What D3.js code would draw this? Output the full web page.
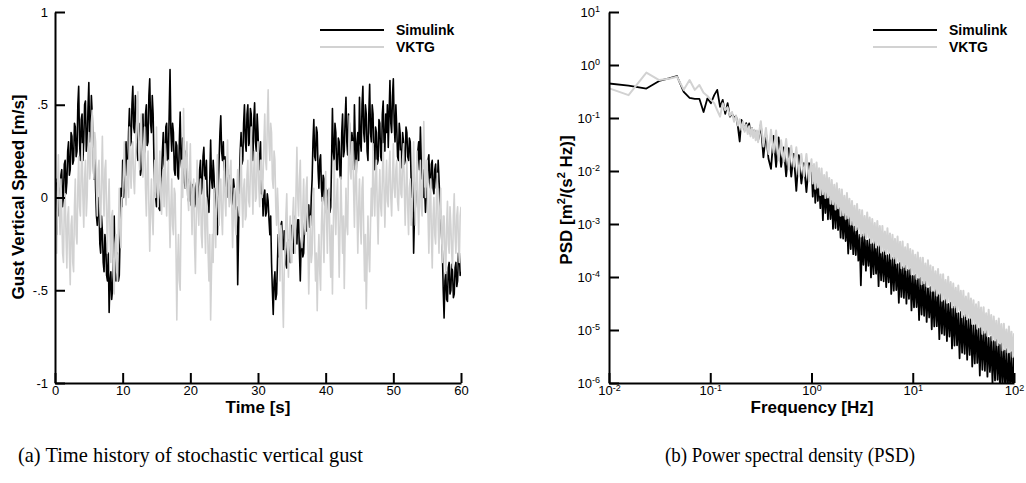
<!DOCTYPE html>
<html>
<head>
<meta charset="utf-8">
<script src="https://cdn.jsdelivr.net/npm/d3@7"></script>
<style>
    body { margin: 0; background: #fff; }
    svg text { font-family: "Liberation Sans", Arial, sans-serif; }
</style>
</head>
<body>
<svg id="chart" width="1026" height="483"></svg>
<script>
    // ---------- data : (a) gust time history, one sample every 0.125 s (one row per second) ----------
    const sampleStep = 0.125
    const simulinkGust = [
        -0.05, 0.1, -0.2, 0.08, 0.05, -0.1, -0.02, 0.12,
        0.15, -0.05, 0.0, 0.18, 0.2, 0.02, 0.08, 0.25,
        0.3, 0.12, 0.15, 0.35, 0.33, 0.18, 0.2, 0.4,
        0.38, 0.22, 0.25, 0.5, 0.6, 0.3, 0.2, 0.42,
        0.45, 0.2, 0.3, 0.5, 0.52, 0.25, 0.28, 0.48,
        0.62, 0.3, 0.35, 0.55, 0.45, 0.25, 0.1, 0.3,
        0.05, -0.1, -0.15, 0.0, -0.05, -0.25, -0.3, -0.1,
        -0.18, -0.35, -0.4, -0.2, -0.25, -0.42, -0.45, -0.3,
        -0.62, -0.45, -0.4, -0.55, -0.5, -0.35, -0.1, -0.4,
        -0.45, -0.32, -0.3, -0.45, -0.42, -0.2, 0.05, -0.05,
        0.2, 0.0, 0.05, 0.25, 0.3, 0.12, 0.15, 0.35,
        0.48, 0.28, 0.3, 0.5, 0.6, 0.38, 0.35, 0.55,
        0.45, 0.25, 0.2, 0.4, 0.32, 0.12, 0.15, 0.35,
        0.45, 0.22, 0.25, 0.45, 0.5, 0.28, 0.3, 0.55,
        0.64, 0.4, 0.35, 0.55, 0.45, 0.2, 0.05, 0.0,
        -0.05, 0.08, 0.05, -0.06, -0.07, 0.06, 0.12, 0.25,
        0.35, 0.18, 0.15, 0.38, 0.4, 0.2, 0.2, 0.45,
        0.69, 0.35, 0.25, 0.4, 0.35, 0.15, 0.12, 0.3,
        0.28, 0.12, 0.1, 0.3, 0.46, 0.2, 0.15, 0.32,
        0.3, 0.08, 0.05, 0.25, 0.22, 0.0, -0.02, 0.1,
        0.08, -0.04, -0.05, 0.07, 0.05, -0.05, -0.03, 0.06,
        0.1, -0.04, -0.02, 0.15, 0.2, 0.02, 0.05, 0.22,
        0.27, 0.12, 0.1, 0.2, 0.02, -0.06, -0.08, 0.1,
        0.31, 0.1, 0.05, 0.2, 0.12, -0.05, -0.09, 0.05,
        -0.2, 0.05, 0.2, 0.35, 0.44, 0.25, 0.2, 0.3,
        0.1, 0.22, 0.0, 0.12, 0.15, 0.0, 0.02, 0.12,
        0.08, -0.04, -0.02, 0.1, 0.05, -0.05, -0.15, -0.05,
        -0.47, -0.2, 0.1, 0.25, 0.35, 0.18, 0.2, 0.4,
        0.5, 0.3, 0.25, 0.45, 0.5, 0.28, 0.3, 0.48,
        0.45, 0.25, 0.2, 0.42, 0.51, 0.3, 0.25, 0.45,
        0.35, 0.18, 0.15, 0.3, 0.02, 0.08, -0.1, 0.0,
        0.04, -0.1, -0.08, 0.02, -0.02, -0.12, -0.2, -0.1,
        -0.35, -0.5, -0.63, -0.45, -0.4, -0.55, -0.52, -0.35,
        -0.2, -0.32, -0.3, -0.15, -0.13, -0.28, -0.28, -0.18,
        -0.25, -0.36, -0.38, -0.24, -0.23, -0.34, -0.35, -0.22,
        -0.15, -0.28, -0.3, -0.14, -0.1, -0.22, -0.25, -0.12,
        -0.12, -0.3, -0.45, -0.25, -0.2, -0.32, -0.3, -0.15,
        -0.08, -0.18, -0.18, -0.05, -0.04, -0.16, -0.15, 0.0,
        0.1, 0.3, 0.42, 0.22, 0.2, 0.38, 0.35, 0.15,
        0.05, 0.2, 0.23, 0.05, -0.02, 0.12, 0.1, -0.05,
        0.05, -0.08, -0.11, 0.04, 0.02, -0.08, -0.05, 0.2,
        0.48, 0.25, 0.2, 0.4, 0.35, 0.15, 0.15, 0.32,
        0.3, 0.12, 0.1, 0.35, 0.45, 0.22, 0.25, 0.42,
        0.54, 0.3, 0.23, 0.45, 0.4, 0.2, 0.15, 0.35,
        0.3, 0.15, 0.5, 0.3, 0.1, 0.3, 0.35, 0.2,
        0.54, 0.3, 0.25, 0.5, 0.6, 0.35, 0.3, 0.5,
        0.45, 0.25, 0.2, 0.45, 0.61, 0.35, 0.3, 0.5,
        0.45, 0.2, 0.15, 0.38, 0.35, 0.18, 0.2, 0.42,
        0.4, 0.22, 0.2, 0.45, 0.52, 0.3, 0.25, 0.45,
        0.35, 0.5, 0.27, 0.45, 0.63, 0.4, 0.35, 0.55,
        0.64, 0.4, 0.3, 0.5, 0.38, 0.22, 0.2, 0.4,
        0.35, 0.2, 0.16, 0.35, 0.3, 0.18, 0.2, 0.38,
        0.35, 0.22, 0.2, 0.32, 0.3, 0.1, 0.0, 0.1,
        -0.3, -0.1, -0.05, 0.05, 0.1, 0.25, 0.3, 0.15,
        0.38, 0.2, 0.1, 0.15, 0.0, 0.05, -0.08, 0.05,
        0.05, 0.2, 0.23, 0.08, 0.05, 0.18, 0.2, 0.05,
        0.02, 0.15, 0.18, 0.05, 0.05, 0.2, 0.1, -0.02,
        -0.1, -0.2, -0.3, -0.5, -0.65, -0.45, -0.4, -0.55,
        -0.56, -0.38, -0.35, -0.52, -0.5, -0.36, -0.4, -0.54,
        -0.52, -0.38, -0.35, -0.48, -0.45, -0.3, -0.3, -0.42,
        -0.4
    ]
    const vktgGust = [
        0.1, -0.15, -0.3, 0.05, 0.23, -0.05, -0.2, 0.1,
        -0.1, -0.3, -0.35, -0.05, 0.02, -0.2, -0.38, -0.1,
        -0.05, -0.3, -0.47, -0.15, -0.1, -0.35, -0.4, -0.05,
        0.1, -0.2, -0.25, 0.05, 0.22, -0.05, -0.1, 0.15,
        0.29, 0.0, -0.16, 0.1, 0.2, -0.1, 0.0, 0.25,
        0.35, 0.1, 0.15, 0.4, 0.47, 0.2, 0.1, 0.35,
        0.3, 0.05, -0.1, 0.15, 0.2, -0.05, -0.16, 0.1,
        0.33, 0.05, -0.1, 0.15, 0.2, -0.1, -0.3, -0.05,
        0.1, -0.2, -0.35, -0.1, -0.07, -0.4, -0.52, -0.25,
        -0.2, -0.4, -0.45, -0.15, 0.05, -0.2, -0.27, 0.0,
        0.0, 0.15, 0.3, 0.05, -0.04, 0.1, 0.2, 0.0,
        0.38, 0.15, 0.05, 0.25, 0.3, 0.1, 0.02, 0.2,
        0.3, 0.5, 0.57, 0.25, 0.15, 0.35, 0.45, 0.2,
        0.11, 0.3, 0.38, 0.05, -0.1, 0.15, 0.25, -0.05,
        -0.29, -0.05, 0.1, -0.1, -0.2, 0.05, 0.2, 0.0,
        0.38, 0.1, -0.05, 0.15, 0.25, 0.0, -0.09, 0.1,
        0.15, -0.05, 0.29, 0.05, -0.1, 0.1, 0.2, -0.05,
        -0.27, -0.05, 0.1, -0.15, -0.2, 0.05, 0.02, -0.25,
        -0.66, -0.35, -0.2, -0.45, -0.5, -0.1, 0.2, 0.0,
        0.48, 0.2, 0.05, 0.25, 0.3, 0.0, -0.07, 0.15,
        0.29, 0.0, -0.2, 0.05, 0.1, -0.25, -0.41, -0.1,
        0.2, -0.05, -0.15, 0.05, 0.1, -0.2, -0.27, 0.0,
        0.11, -0.15, -0.3, 0.0, -0.05, -0.3, -0.45, -0.2,
        -0.66, -0.4, -0.2, -0.35, 0.05, -0.1, -0.27, 0.05,
        0.23, -0.05, -0.15, 0.05, 0.1, -0.1, -0.2, 0.05,
        0.2, 0.0, -0.1, 0.15, 0.31, 0.05, -0.05, 0.15,
        0.2, -0.05, -0.27, -0.05, 0.05, -0.15, -0.2, 0.05,
        0.15, -0.05, -0.1, 0.1, 0.27, 0.0, -0.16, 0.05,
        0.1, -0.12, -0.1, 0.12, 0.2, -0.02, -0.05, 0.15,
        0.38, 0.1, -0.09, 0.15, 0.25, -0.02, 0.0, 0.2,
        0.3, 0.05, -0.05, 0.2, 0.2, 0.0, 0.11, 0.3,
        0.45, 0.2, 0.15, 0.4, 0.58, 0.3, 0.2, 0.4,
        0.35, 0.1, 0.05, 0.25, 0.2, -0.05, -0.15, 0.05,
        -0.07, -0.3, -0.45, -0.15, -0.2, -0.5, -0.7, -0.4,
        -0.3, -0.1, 0.02, -0.25, -0.43, -0.2, -0.1, -0.35,
        -0.35, -0.1, 0.0, -0.2, -0.3, 0.05, 0.27, 0.0,
        -0.1, 0.1, 0.2, -0.1, -0.27, -0.05, 0.1, -0.15,
        -0.2, 0.05, 0.11, -0.25, -0.52, -0.3, -0.1, -0.35,
        -0.3, -0.05, 0.05, -0.25, -0.45, -0.3, -0.61, -0.35,
        -0.2, -0.4, -0.5, -0.15, 0.0, -0.2, -0.35, -0.05,
        0.14, -0.1, -0.3, 0.0, 0.05, -0.25, -0.43, -0.15,
        -0.52, -0.2, 0.2, -0.05, -0.2, 0.0, 0.1, -0.15,
        -0.43, -0.15, 0.11, -0.1, -0.3, -0.1, -0.49, -0.2,
        0.05, -0.15, -0.2, 0.2, 0.44, 0.15, 0.1, 0.3,
        0.3, 0.05, -0.16, 0.1, 0.2, -0.05, -0.3, -0.05,
        0.1, -0.15, -0.25, 0.05, 0.11, -0.2, -0.45, -0.2,
        -0.6, -0.35, -0.1, -0.3, -0.4, -0.15, 0.05, -0.1,
        0.29, 0.05, -0.1, 0.1, 0.2, -0.05, -0.25, 0.0,
        0.15, -0.05, -0.1, 0.1, 0.29, 0.05, -0.16, 0.05,
        0.2, -0.02, -0.05, 0.15, 0.25, 0.0, -0.1, 0.1,
        0.29, 0.05, 0.0, 0.15, 0.2, -0.02, -0.07, 0.1,
        0.25, 0.02, 0.0, 0.2, 0.29, 0.05, -0.15, 0.05,
        0.2, -0.05, -0.2, 0.05, 0.1, -0.15, -0.1, 0.1,
        0.3, 0.05, -0.15, 0.1, 0.25, -0.05, -0.2, 0.05,
        0.2, -0.05, -0.1, 0.2, 0.41, 0.15, 0.0, 0.2,
        0.2, -0.1, -0.3, -0.05, 0.1, -0.2, -0.38, -0.1,
        0.0, -0.2, -0.25, 0.0, 0.13, -0.15, -0.3, -0.05,
        0.05, -0.2, -0.35, -0.1, -0.1, -0.3, -0.41, -0.15,
        -0.02, -0.25, -0.3, -0.05, -0.15, -0.3, -0.38, -0.1,
        0.02, -0.2, -0.3, -0.1, -0.05, -0.25, -0.35, -0.1,
        -0.05
    ]
    const timeTicks = [0, 10, 20, 30, 40, 50, 60]
    const gustTicks = [-1, -0.5, 0, 0.5, 1]
    const gustTickLabels = ["-1", "-.5", "0", ".5", "1"]

    // ---------- data : (b) power spectral density ----------
    const psdFreq = [
        0.0078, 0.0156, 0.0234, 0.0313, 0.0391, 0.0469, 0.0547, 0.0625, 0.0703, 0.0781,
        0.0859, 0.0938, 0.1016, 0.1094, 0.1172, 0.125, 0.1328, 0.1406, 0.1484, 0.1563,
        0.1641, 0.1719, 0.1797, 0.1875, 0.1953, 0.2031, 0.2109, 0.2188, 0.2266, 0.2344,
        0.2422, 0.25, 0.2578, 0.2656, 0.2734, 0.2813, 0.2891, 0.2969, 0.3047,
        0.316, 0.335, 0.355, 0.376, 0.398, 0.422, 0.447, 0.473, 0.501, 0.531,
        0.562, 0.596, 0.631, 0.668, 0.708, 0.750, 0.794, 0.841, 0.891, 0.944,
        1.000, 1.029, 1.059, 1.090, 1.122, 1.155, 1.189, 1.223, 1.259, 1.296,
        1.334, 1.372, 1.413, 1.454, 1.496, 1.540, 1.585, 1.631, 1.679, 1.728,
        1.778, 1.830, 1.884, 1.939, 1.995, 2.054, 2.113, 2.175, 2.239, 2.304,
        2.371, 2.441, 2.512, 2.585, 2.661, 2.738, 2.818, 2.901, 2.985, 3.073,
        3.162, 3.255, 3.350, 3.447, 3.548, 3.652, 3.758, 3.868, 3.981, 4.097,
        4.217, 4.340, 4.467, 4.597, 4.732, 4.870, 5.012, 5.158, 5.309, 5.464,
        5.623, 5.788, 5.957, 6.131, 6.310, 6.494, 6.683, 6.879, 7.079, 7.286,
        7.499, 7.718, 7.943, 8.175, 8.414, 8.660, 8.913, 9.173, 9.441, 9.716,
        10.00, 10.29, 10.59, 10.90, 11.22, 11.55, 11.89, 12.23, 12.59, 12.96,
        13.34, 13.72, 14.13, 14.54, 14.96, 15.40, 15.85, 16.31, 16.79, 17.28,
        17.78, 18.30, 18.84, 19.39, 19.95, 20.54, 21.13, 21.75, 22.39, 23.04,
        23.71, 24.41, 25.12, 25.85, 26.61, 27.38, 28.18, 29.01, 29.85, 30.73,
        31.62, 32.55, 33.50, 34.47, 35.48, 36.52, 37.58, 38.68, 39.81, 40.97,
        42.17, 43.40, 44.67, 45.97, 47.32, 48.70, 50.12, 51.58, 53.09, 54.64,
        56.23, 57.88, 59.57, 61.31, 63.10, 64.94, 66.83, 68.79, 70.79, 72.86,
        74.99, 77.18, 79.43, 81.75, 84.14, 86.60, 89.13, 91.73, 94.41, 97.16,
        100
    ]
    const psdSimulink = [
        0.47, 0.41, 0.36, 0.50, 0.56, 0.62, 0.31, 0.24, 0.23, 0.23,
        0.13, 0.235, 0.19, 0.27, 0.34, 0.163, 0.22, 0.12, 0.19, 0.106,
        0.12, 0.10, 0.11, 0.069, 0.036, 0.092, 0.075, 0.059, 0.08, 0.062,
        0.079, 0.05, 0.065, 0.051, 0.058, 0.045, 0.055, 0.038, 0.05,
        7.6e-2, 1.8e-2, 5.3e-2, 1.7e-2, 1.1e-2, 4.6e-2, 1.2e-2, 4.3e-2, 1.2e-2, 2.8e-2,
        7.9e-3, 2.7e-2, 7.8e-3, 2.1e-2, 4.2e-3, 2.0e-2, 5.8e-3, 1.4e-2, 4.0e-3, 1.4e-2,
        1.26e-2, 3.29e-3, 1.01e-2, 2.52e-3, 9.95e-3, 2.72e-3, 7.11e-3, 1.99e-3, 7.02e-3, 1.18e-3,
        5.75e-3, 1.61e-3, 4.72e-3, 1.23e-3, 4.55e-3, 1.24e-3, 3.73e-3, 8.11e-4, 2.86e-3, 8.38e-4,
        2.95e-3, 7.71e-4, 2.21e-3, 5.51e-4, 2.08e-3, 5.31e-4, 1.71e-3, 4.78e-4, 1.40e-3, 2.77e-4,
        1.35e-3, 3.37e-4, 1.11e-3, 2.70e-4, 8.87e-4, 2.60e-4, 8.36e-4, 2.04e-4, 6.25e-4, 6.97e-5,
        6.32e-4, 1.70e-4, 6.51e-4, 1.32e-4, 4.86e-4, 1.63e-4, 5.13e-4, 9.85e-5, 4.29e-4, 1.13e-4,
        4.53e-4, 1.16e-4, 3.79e-4, 6.71e-5, 3.91e-4, 8.66e-5, 2.92e-4, 8.29e-5, 3.08e-4, 6.45e-5,
        2.58e-4, 7.95e-5, 2.71e-4, 4.80e-5, 2.27e-4, 5.53e-5, 2.34e-4, 5.67e-5, 1.75e-4, 3.27e-5,
        1.85e-4, 4.22e-5, 1.54e-4, 4.04e-5, 1.63e-4, 3.14e-5, 1.36e-4, 3.88e-5, 1.41e-4, 2.34e-5,
        1.05e-4, 2.68e-5, 1.10e-4, 2.71e-5, 9.20e-5, 1.54e-5, 9.65e-5, 1.96e-5, 8.06e-5, 1.85e-5,
        8.21e-5, 1.42e-5, 6.12e-5, 1.73e-5, 6.42e-5, 1.03e-5, 5.36e-5, 1.17e-5, 5.62e-5, 1.18e-5,
        4.69e-5, 6.72e-6, 4.80e-5, 8.56e-6, 3.57e-5, 8.08e-6, 3.75e-5, 6.20e-6, 3.12e-5, 7.54e-6,
        3.28e-5, 4.49e-6, 2.74e-5, 5.10e-6, 2.80e-5, 5.16e-6, 2.08e-5, 2.93e-6, 2.19e-5, 3.74e-6,
        1.82e-5, 3.55e-6, 1.92e-5, 2.75e-6, 1.60e-5, 3.39e-6, 1.63e-5, 2.04e-6, 1.22e-5, 2.34e-6,
        1.28e-5, 2.40e-6, 1.06e-5, 1.38e-6, 1.12e-5, 1.78e-6, 9.27e-6, 1.70e-6, 9.58e-6, 1.32e-6,
        7.09e-6, 1.62e-6, 7.44e-6, 9.8e-7, 6.21e-6, 1.12e-6, 6.51e-6, 1.15e-6, 5.43e-6, 6.6e-7,
        5.57e-6, 8.5e-7, 4.13e-6, 8.1e-7, 4.34e-6, 6.3e-7, 3.62e-6, 7.8e-7, 3.80e-6, 4.7e-7,
        3.17e-6
    ]
    const psdVktg = [
        0.43, 0.27, 0.72, 0.52, 0.55, 0.60, 0.34, 0.52, 0.34, 0.42,
        0.30, 0.26, 0.22, 0.19, 0.14, 0.106, 0.19, 0.14, 0.16, 0.11,
        0.13, 0.085, 0.11, 0.072, 0.095, 0.06, 0.085, 0.055, 0.075, 0.05,
        0.07, 0.045, 0.065, 0.042, 0.06, 0.038, 0.058, 0.035, 0.055,
        8.7e-2, 2.9e-2, 6.5e-2, 2.1e-2, 6.0e-2, 2.2e-2, 5.8e-2, 1.6e-2, 3.8e-2, 1.5e-2,
        4.0e-2, 1.1e-2, 3.0e-2, 1.2e-2, 2.8e-2, 8.4e-3, 2.1e-2, 7.9e-3, 2.1e-2, 6.4e-3,
        1.66e-2, 5.83e-3, 1.35e-2, 4.64e-3, 1.45e-2, 4.87e-3, 1.13e-2, 3.54e-3, 1.11e-2, 3.63e-3,
        8.41e-3, 3.09e-3, 9.46e-3, 3.17e-3, 7.36e-3, 2.41e-3, 6.73e-3, 2.36e-3, 5.48e-3, 1.88e-3,
        5.89e-3, 1.98e-3, 4.58e-3, 1.43e-3, 4.49e-3, 1.47e-3, 3.41e-3, 1.25e-3, 3.84e-3, 1.29e-3,
        2.99e-3, 9.78e-4, 2.73e-3, 9.58e-4, 2.22e-3, 7.63e-4, 2.39e-3, 8.01e-4, 1.86e-3, 5.81e-4,
        1.82e-3, 6.05e-4, 1.42e-3, 5.30e-4, 1.64e-3, 5.59e-4, 1.32e-3, 4.37e-4, 1.24e-3, 4.40e-4,
        1.04e-3, 3.60e-4, 1.14e-3, 3.89e-4, 9.14e-4, 2.90e-4, 9.20e-4, 3.06e-4, 7.19e-4, 2.68e-4,
        8.32e-4, 2.83e-4, 6.65e-4, 2.21e-4, 6.25e-4, 2.23e-4, 5.24e-4, 1.82e-4, 5.78e-4, 1.97e-4,
        4.62e-4, 1.47e-4, 4.66e-4, 1.55e-4, 3.64e-4, 1.36e-4, 4.21e-4, 1.43e-4, 3.37e-4, 1.12e-4,
        3.16e-4, 1.12e-4, 2.64e-4, 9.15e-5, 2.90e-4, 9.83e-5, 2.31e-4, 7.30e-5, 2.31e-4, 7.66e-5,
        1.80e-4, 6.69e-5, 2.07e-4, 7.02e-5, 1.65e-4, 5.46e-5, 1.54e-4, 5.48e-5, 1.29e-4, 4.46e-5,
        1.41e-4, 4.79e-5, 1.12e-4, 3.56e-5, 1.13e-4, 3.74e-5, 8.77e-5, 3.26e-5, 1.01e-4, 3.42e-5,
        8.04e-5, 2.66e-5, 7.52e-5, 2.67e-5, 6.27e-5, 2.18e-5, 6.89e-5, 2.34e-5, 5.48e-5, 1.74e-5,
        5.50e-5, 1.82e-5, 4.28e-5, 1.59e-5, 4.92e-5, 1.67e-5, 3.92e-5, 1.30e-5, 3.66e-5, 1.30e-5,
        3.05e-5, 1.06e-5, 3.36e-5, 1.14e-5, 2.67e-5, 8.46e-6, 2.68e-5, 8.88e-6, 2.08e-5, 7.75e-6,
        2.40e-5, 8.14e-6, 1.91e-5, 6.33e-6, 1.79e-5, 6.35e-6, 1.49e-5, 5.17e-6, 1.64e-5, 5.55e-6,
        1.30e-5, 4.13e-6, 1.31e-5, 4.33e-6, 1.02e-5, 3.78e-6, 1.17e-5, 3.97e-6, 9.31e-6, 3.09e-6,
        8.71e-6
    ]
    const freqTicks = [1e-2, 1e-1, 1e0, 1e1, 1e2]
    const psdTicks = [1e-6, 1e-5, 1e-4, 1e-3, 1e-2, 1e-1, 1e0, 1e1]

    const seriesNames = ["Simulink", "VKTG"]
    const seriesColors = ["#000000", "#d2d2d2"]

    let svg = d3.select("#chart")

    function styleAxis(g) {
        g.attr("font-family", null).attr("font-size", null)
        g.select(".domain").attr("stroke", "black").attr("stroke-width", 2)
        g.selectAll(".tick line").attr("stroke", "black").attr("stroke-width", 2)
        g.selectAll(".tick text").attr("fill", "black").style("font-size", "13px")
    }

    function powerLabels(g) {
        g.selectAll(".tick text").each(function (d) {
            let t = d3.select(this).text(null)
            t.append("tspan").text("10")
            t.append("tspan").attr("dy", "-0.5em").style("font-size", "9px")
                .text(Math.round(Math.log10(d)))
        })
    }

    function drawLegend(x, y) {
        seriesNames.forEach((name, i) => {
            svg.append("line")
                .attr("x1", x).attr("x2", x + 64)
                .attr("y1", y + i * 17).attr("y2", y + i * 17)
                .attr("stroke", seriesColors[i]).attr("stroke-width", 2)
            svg.append("text")
                .attr("x", x + 76).attr("y", y + i * 17 + 5)
                .attr("font-weight", "bold").style("font-size", "14px")
                .text(name)
        })
    }

    function axisTitle(x, y, rotate) {
        return svg.append("text")
            .attr("transform", `translate(${x},${y})` + (rotate ? " rotate(-90)" : ""))
            .attr("text-anchor", "middle").attr("font-weight", "bold").style("font-size", "17px")
    }

    // ---------- panel (a) ----------
    function drawTimeHistory() {
        let x = d3.scaleLinear().domain([0, 60]).range([55, 461])
        let y = d3.scaleLinear().domain([-1, 1]).range([383, 12])
        let times = simulinkGust.map((v, i) => i * sampleStep)

        svg.append("clipPath").attr("id", "clipA")
            .append("rect").attr("x", 55).attr("y", 12).attr("width", 406).attr("height", 371)

        let line = d3.line().x(d => x(d[0])).y(d => y(d[1]))
        let plot = svg.append("g").attr("clip-path", "url(#clipA)")
        ;[simulinkGust, vktgGust].forEach((vals, i) => {
            plot.append("path")
                .datum(d3.zip(times, vals))
                .attr("d", line)
                .attr("fill", "none")
                .attr("stroke", seriesColors[i])
                .attr("stroke-width", 1.6)
                .attr("stroke-linejoin", "round")
        })

        svg.append("g").attr("transform", "translate(0,383)")
            .call(d3.axisBottom(x).tickValues(timeTicks).tickSizeInner(-10).tickSizeOuter(0).tickPadding(3))
            .call(styleAxis)
        svg.append("g").attr("transform", "translate(55,0)")
            .call(d3.axisLeft(y).tickValues(gustTicks).tickFormat((d, i) => gustTickLabels[i])
                .tickSizeInner(-10).tickSizeOuter(0).tickPadding(7))
            .call(styleAxis)

        axisTitle(258, 413, false).text("Time [s]")
        axisTitle(24, 197, true).text("Gust Vertical Speed [m/s]")

        drawLegend(320, 30)
    }

    // ---------- panel (b) ----------
    function drawPsd() {
        let x = d3.scaleLog().domain([1e-2, 1e2]).range([609, 1014])
        let y = d3.scaleLog().domain([1e-6, 1e1]).range([383, 12])

        svg.append("clipPath").attr("id", "clipB")
            .append("rect").attr("x", 609).attr("y", 12).attr("width", 405).attr("height", 371)

        let line = d3.line().x(d => x(d[0])).y(d => y(d[1]))
        let plot = svg.append("g").attr("clip-path", "url(#clipB)")
        ;[psdSimulink, psdVktg].forEach((vals, i) => {
            plot.append("path")
                .datum(d3.zip(psdFreq, vals))
                .attr("d", line)
                .attr("fill", "none")
                .attr("stroke", seriesColors[i])
                .attr("stroke-width", i ? 2 : 1.8)
                .attr("stroke-linejoin", "round")
        })

        svg.append("g").attr("transform", "translate(0,383)")
            .call(d3.axisBottom(x).tickValues(freqTicks).tickSizeInner(-10).tickSizeOuter(0).tickPadding(3))
            .call(styleAxis).call(powerLabels)
        svg.append("g").attr("transform", "translate(609,0)")
            .call(d3.axisLeft(y).tickValues(psdTicks).tickSizeInner(-10).tickSizeOuter(0).tickPadding(9))
            .call(styleAxis).call(powerLabels)

        axisTitle(812, 413, false).text("Frequency [Hz]")

        let yl = axisTitle(572, 200, true)
        yl.append("tspan").text("PSD [m")
        yl.append("tspan").attr("dy", -7).style("font-size", "11px").text("2")
        yl.append("tspan").attr("dy", 7).text("/(s")
        yl.append("tspan").attr("dy", -7).style("font-size", "11px").text("2")
        yl.append("tspan").attr("dy", 7).text(" Hz)]")

        drawLegend(873, 30)
    }

    drawTimeHistory()
    drawPsd()

    // sub-figure captions
    svg.append("text").attr("x", 18).attr("y", 462)
        .style("font-family", "'Liberation Serif', serif").style("font-size", "21px")
        .attr("textLength", 345).attr("lengthAdjust", "spacingAndGlyphs")
        .text("(a) Time history of stochastic vertical gust")
    svg.append("text").attr("x", 665).attr("y", 462)
        .style("font-family", "'Liberation Serif', serif").style("font-size", "21px")
        .attr("textLength", 250).attr("lengthAdjust", "spacingAndGlyphs")
        .text("(b) Power spectral density (PSD)")
</script>
</body>
</html>
